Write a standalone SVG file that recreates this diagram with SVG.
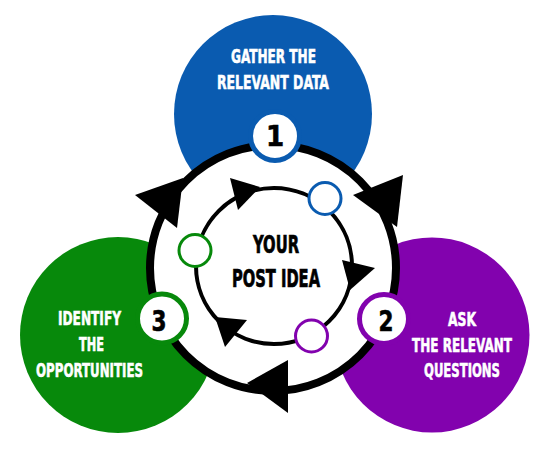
<svg xmlns="http://www.w3.org/2000/svg" width="550" height="452" viewBox="0 0 550 452">
<style>
.lbl{font-family:"DejaVu Sans Condensed","Liberation Sans Narrow","DejaVu Sans",sans-serif;font-weight:bold;font-size:20px;fill:#fff;stroke:#fff;stroke-width:0.6;text-anchor:middle}
.ctr{font-family:"DejaVu Sans Condensed","Liberation Sans Narrow","DejaVu Sans",sans-serif;font-weight:bold;font-size:24px;fill:#000;stroke:#000;stroke-width:0.7;text-anchor:middle}
.num{font-family:"DejaVu Sans Condensed","Liberation Sans Narrow","DejaVu Sans",sans-serif;font-weight:bold;font-size:29px;fill:#000;stroke:#000;stroke-width:0.6;text-anchor:middle}
.badge{fill:#fff;stroke-width:5}
.dot{fill:#fff;stroke-width:3}
.arr{fill:#000}
</style>
<rect width="550" height="452" fill="#fff"/>
<g id="node-gather">
<circle cx="273" cy="114" r="99" fill="#0a5bb0"/>
</g>
<g id="node-identify">
<circle cx="118" cy="335" r="98" fill="#07890b"/>
</g>
<g id="node-ask">
<circle cx="432" cy="335" r="97.5" fill="#8202ae"/>
</g>
<g id="connectors">
<circle cx="273" cy="268" r="123" fill="#fff" stroke="#000" stroke-width="8"/>
<circle cx="274" cy="266" r="78" fill="none" stroke="#000" stroke-width="4"/>
<polygon class="arr" points="135,195 183,178 177,228"/>
<polygon class="arr" points="353,195 403,175 397,227"/>
<polygon class="arr" points="247,383 288,360 288,413"/>
<polygon class="arr" points="230,178 260,187 238,210"/>
<polygon class="arr" points="342,260 375,268 350,290"/>
<polygon class="arr" points="215,317 247,320 225,347"/>
<circle class="dot" cx="325" cy="198.5" r="16" stroke="#0a5bb0"/>
<circle class="dot" cx="195" cy="250.5" r="16" stroke="#07890b"/>
<circle class="dot" cx="311.5" cy="336" r="16" stroke="#8202ae"/>
</g>
<g id="node-center">
<text class="ctr" x="276" y="253" textLength="46" lengthAdjust="spacingAndGlyphs">YOUR</text>
<text class="ctr" x="276" y="287" textLength="88" lengthAdjust="spacingAndGlyphs">POST IDEA</text>
</g>
<g id="badge-1">
<circle class="badge" cx="275" cy="136" r="24.5" stroke="#0a5bb0"/>
<text class="num" x="275" y="146">1</text>
</g>
<g id="badge-2">
<circle class="badge" cx="384" cy="319" r="24.5" stroke="#8202ae"/>
<text class="num" x="386" y="331" textLength="15" lengthAdjust="spacingAndGlyphs">2</text>
</g>
<g id="badge-3">
<circle class="badge" cx="162" cy="318.5" r="24.5" stroke="#07890b"/>
<text class="num" x="159" y="331" textLength="15" lengthAdjust="spacingAndGlyphs">3</text>
</g>
<g id="labels">
<text class="lbl" x="273.5" y="63" textLength="85" lengthAdjust="spacingAndGlyphs">GATHER THE</text>
<text class="lbl" x="273" y="89" textLength="112" lengthAdjust="spacingAndGlyphs">RELEVANT DATA</text>
<text class="lbl" x="89.5" y="325" textLength="63" lengthAdjust="spacingAndGlyphs">IDENTIFY</text>
<text class="lbl" x="91.5" y="351" textLength="25" lengthAdjust="spacingAndGlyphs">THE</text>
<text class="lbl" x="89.5" y="377" textLength="107" lengthAdjust="spacingAndGlyphs">OPPORTUNITIES</text>
<text class="lbl" x="462" y="326" textLength="28" lengthAdjust="spacingAndGlyphs">ASK</text>
<text class="lbl" x="462" y="352" textLength="100" lengthAdjust="spacingAndGlyphs">THE RELEVANT</text>
<text class="lbl" x="462" y="377" textLength="76" lengthAdjust="spacingAndGlyphs">QUESTIONS</text>
</g>
</svg>
